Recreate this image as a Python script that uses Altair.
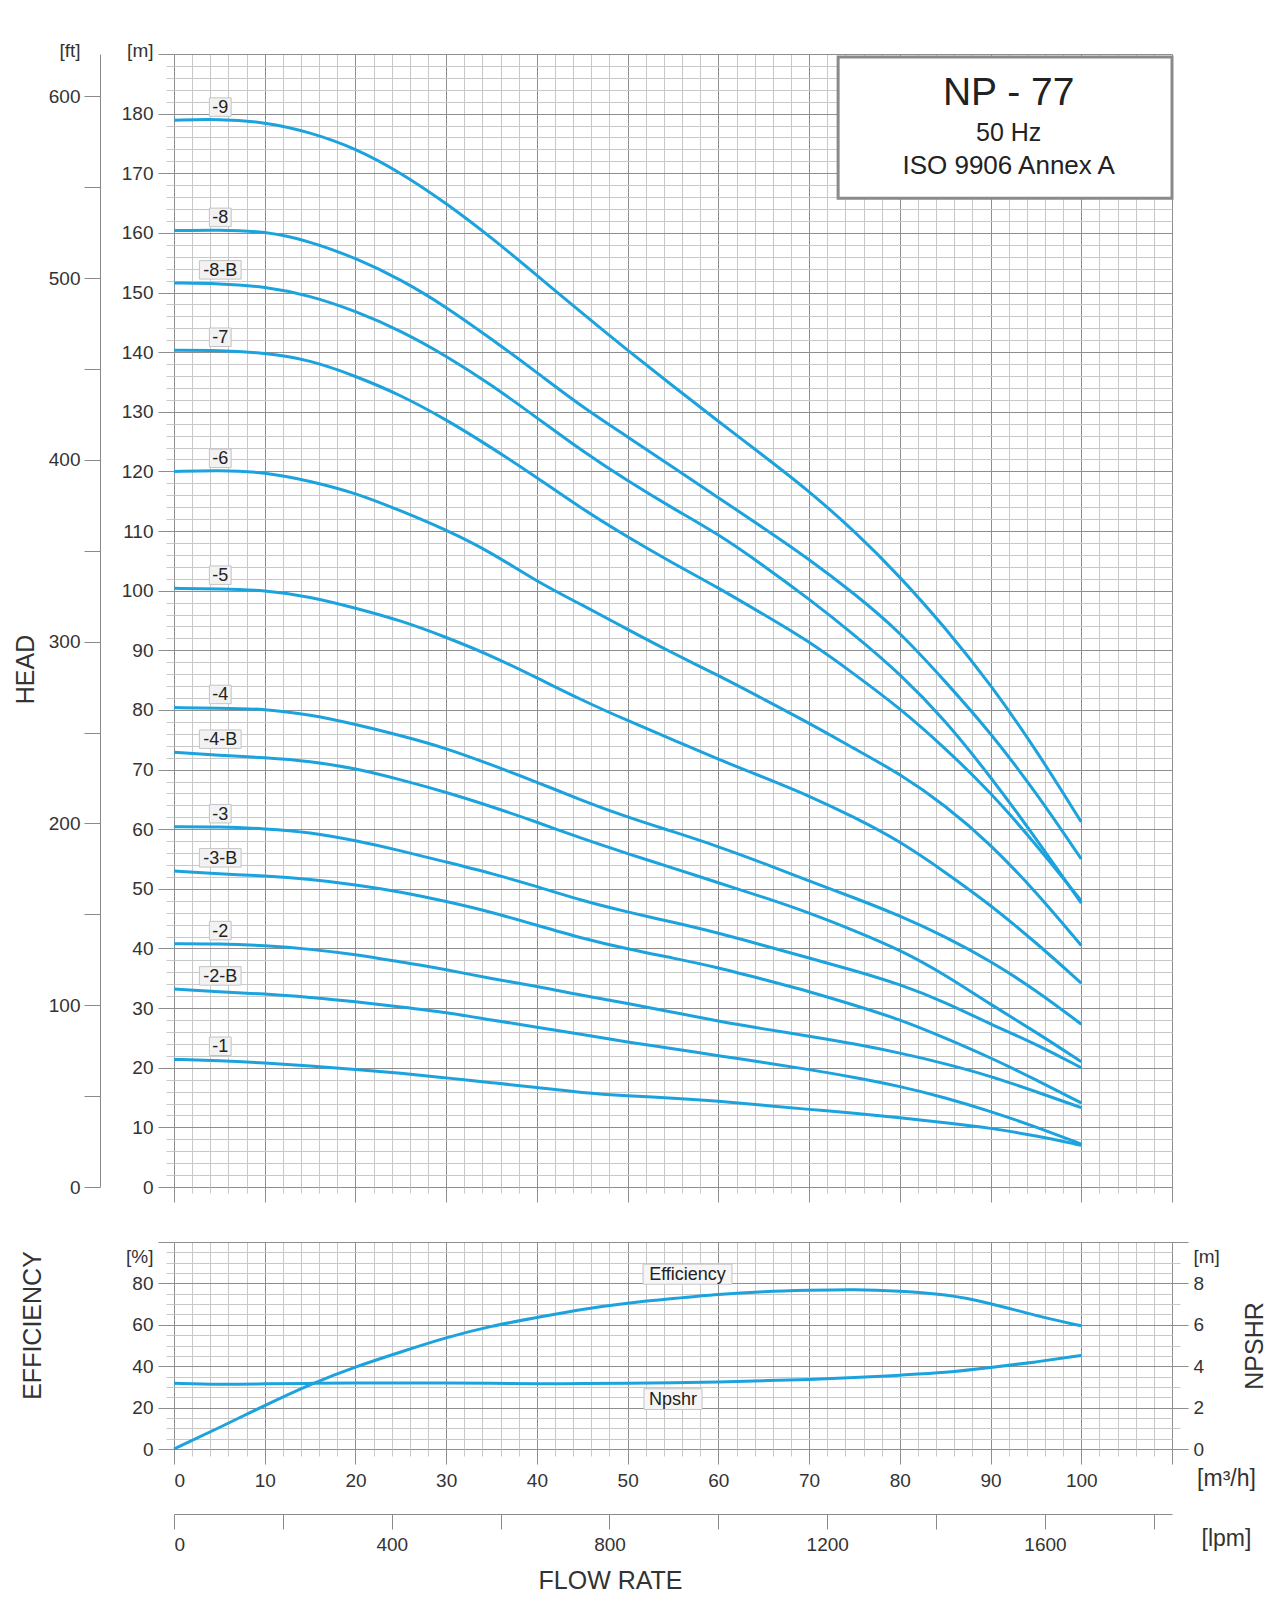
import altair as alt
import pandas as pd

# ---------------- data ----------------
flow = [0, 5, 10, 15, 20, 25, 30, 35, 40, 45, 50, 55, 60, 65, 70, 75, 80, 85, 90, 95, 100]

curve_names = ["-9", "-8", "-8-B", "-7", "-6", "-5", "-4", "-4-B", "-3", "-3-B", "-2", "-2-B", "-1"]

h_9 = [178.9, 179.1, 178.6, 176.9, 174.2, 170.1, 165.0, 159.2, 152.9, 146.5, 140.3, 134.3, 128.4, 122.6, 116.7, 110.0, 102.4, 93.8, 84.3, 73.4, 61.2]
h_8 = [160.4, 160.5, 160.3, 158.6, 155.8, 152.2, 147.6, 142.2, 136.6, 130.8, 125.8, 120.7, 115.6, 110.5, 105.3, 99.5, 93.1, 84.8, 76.2, 66.2, 55.0]
h_8b = [151.6, 151.5, 151.0, 149.5, 146.9, 143.6, 139.4, 134.5, 129.0, 123.4, 118.4, 113.8, 109.5, 104.2, 98.6, 92.6, 86.1, 78.3, 68.8, 58.5, 47.6]
h_7 = [140.3, 140.3, 139.9, 138.7, 136.0, 132.8, 128.7, 124.0, 119.0, 113.7, 109.0, 104.6, 100.5, 96.0, 91.5, 86.0, 80.3, 73.6, 66.2, 57.5, 48.0]
h_6 = [120.0, 120.2, 119.9, 118.4, 116.4, 113.4, 110.2, 106.4, 101.5, 97.6, 93.5, 89.5, 85.8, 81.8, 77.8, 73.5, 69.3, 64.0, 57.5, 49.5, 40.5]
h_5 = [100.4, 100.3, 100.1, 99.0, 97.1, 95.0, 92.2, 89.1, 85.4, 81.6, 78.2, 75.0, 71.7, 68.7, 65.6, 62.0, 58.0, 52.8, 47.3, 41.0, 34.2]
h_4 = [80.4, 80.3, 80.2, 79.2, 77.6, 75.7, 73.6, 70.8, 67.9, 64.8, 62.0, 59.6, 57.1, 54.3, 51.3, 48.5, 45.5, 42.0, 37.9, 33.0, 27.3]
h_4b = [72.9, 72.4, 72.0, 71.4, 70.2, 68.3, 66.2, 63.8, 61.2, 58.4, 55.9, 53.5, 51.0, 48.6, 46.0, 43.0, 39.8, 35.6, 30.6, 26.0, 21.0]
h_3 = [60.4, 60.4, 60.1, 59.5, 58.1, 56.4, 54.5, 52.6, 50.4, 48.0, 46.1, 44.4, 42.6, 40.5, 38.4, 36.3, 34.0, 31.0, 27.3, 24.0, 20.0]
h_3b = [53.0, 52.5, 52.2, 51.6, 50.7, 49.5, 47.9, 46.1, 43.9, 41.7, 39.9, 38.4, 36.8, 34.8, 32.8, 30.5, 28.1, 25.0, 21.7, 18.0, 14.1]
h_2 = [40.8, 40.8, 40.5, 39.9, 39.0, 37.7, 36.5, 34.9, 33.7, 32.1, 30.8, 29.3, 27.8, 26.5, 25.3, 24.0, 22.5, 20.7, 18.6, 16.0, 13.3]
h_2b = [33.2, 32.7, 32.4, 31.8, 31.1, 30.2, 29.3, 28.0, 26.8, 25.6, 24.3, 23.2, 22.0, 20.9, 19.7, 18.4, 16.9, 15.0, 12.7, 10.1, 7.2]
h_1 = [21.4, 21.2, 20.8, 20.3, 19.7, 19.1, 18.3, 17.5, 16.7, 15.8, 15.3, 14.9, 14.4, 13.7, 13.0, 12.4, 11.6, 10.8, 9.9, 8.6, 7.0]
heads = [h_9, h_8, h_8b, h_7, h_6, h_5, h_4, h_4b, h_3, h_3b, h_2, h_2b, h_1]

efficiency = [0, 10.3, 21.1, 31.3, 39.8, 46.9, 53.9, 59.5, 63.5, 67.6, 70.6, 72.7, 74.8, 76.1, 76.7, 77.2, 76.4, 74.8, 70.5, 64.3, 59.5]
npshr = [3.18, 3.11, 3.15, 3.17, 3.19, 3.19, 3.19, 3.18, 3.15, 3.16, 3.17, 3.20, 3.23, 3.30, 3.36, 3.44, 3.57, 3.68, 3.93, 4.20, 4.52]

title_lines = ["NP - 77", "50 Hz", "ISO 9906 Annex A"]

# ---------------- derived tables ----------------
rows = []
for name, hs in zip(curve_names, heads):
    for q, h in zip(flow, hs):
        rows.append({"curve": name, "q": q, "h": h})
df_curves = pd.DataFrame(rows)

lab = []
for name, hs in zip(curve_names, heads):
    half = 1.2 if len(name) <= 2 else 2.3
    yc = hs[0] + 2.2
    lab.append({"name": name, "xc": 5.1, "yc": yc, "x0": 5.1 - half, "x1": 5.1 + half,
                "y0": yc - 1.55, "y1": yc + 1.55})
df_lab = pd.DataFrame(lab)

df_box = pd.DataFrame([{"x0": 73.2, "x1": 110, "y0": 165.8, "y1": 189.5}])
df_title = pd.DataFrame({"t": title_lines, "x": [92, 92, 92], "y": [183.5, 176.8, 171.2],
                         "fs": [39, 25, 26]})

df_eff = pd.DataFrame({"q": flow, "eff": efficiency})
df_np = pd.DataFrame({"q": flow, "npsh": npshr})
df_blab = pd.DataFrame([
    {"name": "Efficiency", "xc": 56.6, "yc": 84.5, "x0": 51.7, "x1": 61.5, "y0": 79.6, "y1": 89.3},
    {"name": "Npshr", "xc": 55.0, "yc": 24.1, "x0": 51.8, "x1": 58.2, "y0": 19.1, "y1": 29.1},
])

Q_MAX = 110
H_MAX = 190
FT_MAX = H_MAX / 0.3048
LPM_MAX = Q_MAX * 1000 / 60

df_ft = pd.DataFrame({"q": [0, 0], "ft": [0, FT_MAX]})
df_lpm = pd.DataFrame({"lpm": [0, LPM_MAX]})

# ---------------- styling ----------------
W = 998
H_TOP = 1133
H_BOT = 207
BLUE = "#1ca3dd"
MAJ = "#8e8e8e"
MIN = "#c8c8c8"
TXT = "#333333"
FONT = "Liberation Sans"
LW = 3


def cond(test, a, b):
    return {"condition": {"test": test, "value": a}, "value": b}


def xs_top():
    return alt.Scale(domain=[0, Q_MAX], nice=False, zero=False)


def ys_top():
    return alt.Scale(domain=[0, H_MAX], nice=False, zero=False)


x_top_axis = alt.Axis(values=list(range(0, 111, 2)), labels=False, title=None, domain=False,
                      grid=True, gridColor=cond("datum.value % 10 === 0", MAJ, MIN),
                      tickColor=cond("datum.value % 10 === 0", MAJ, MIN),
                      tickSize=cond("datum.value % 10 === 0", 15, 6))
y_top_axis = alt.Axis(values=list(range(0, 191, 2)), title=None, domain=False, grid=True,
                      gridColor=cond("datum.value % 10 === 0", MAJ, MIN),
                      tickColor=cond("datum.value % 10 === 0", MAJ, MIN),
                      tickSize=cond("datum.value % 10 === 0", 16, 8),
                      labelOffset=cond("datum.value === 190", -4, 0),
                      labelPadding=5,
                      labelExpr="datum.value === 190 ? '[m]' : (datum.value % 10 === 0 ? datum.label : '')")

curves = alt.Chart(df_curves).mark_line(color=BLUE, strokeWidth=LW, interpolate="basis").encode(
    x=alt.X("q:Q", scale=xs_top(), axis=x_top_axis),
    y=alt.Y("h:Q", scale=ys_top(), axis=y_top_axis),
    detail="curve:N",
)

lab_boxes = alt.Chart(df_lab).mark_rect(fill="#f2f2f2", stroke="#c4c4c4", strokeWidth=1).encode(
    x=alt.X("x0:Q", scale=xs_top(), axis=None), x2="x1:Q",
    y=alt.Y("y0:Q", scale=ys_top(), axis=None), y2="y1:Q",
)
lab_text = alt.Chart(df_lab).mark_text(font=FONT, fontSize=18, color="#222222", baseline="middle",
                                       align="center", dy=1).encode(
    x=alt.X("xc:Q", scale=xs_top(), axis=None),
    y=alt.Y("yc:Q", scale=ys_top(), axis=None),
    text="name:N",
)

title_box = alt.Chart(df_box).mark_rect(fill="white", stroke="#8a8a8a", strokeWidth=3).encode(
    x=alt.X("x0:Q", scale=xs_top(), axis=None), x2="x1:Q",
    y=alt.Y("y0:Q", scale=ys_top(), axis=None), y2="y1:Q",
)
title_text = alt.Chart(df_title).mark_text(font=FONT, color="#222222", baseline="middle",
                                           align="center").encode(
    x=alt.X("x:Q", scale=xs_top(), axis=None),
    y=alt.Y("y:Q", scale=ys_top(), axis=None),
    text="t:N",
    size=alt.Size("fs:Q", scale=None, legend=None),
)

ft_axis = alt.Axis(orient="left", offset=74, values=list(range(0, 601, 50)) + [FT_MAX],
                   format="d", grid=False, domain=True, domainColor="#8a8a8a",
                   tickColor="#8a8a8a", tickSize=16,
                   tickOpacity=cond("datum.value > 610", 0, 1),
                   labelPadding=4,
                   labelOffset=cond("datum.value > 610", -4, 0),
                   labelExpr="datum.value > 610 ? '[ft]' : (datum.value % 100 === 0 ? datum.label : '')",
                   title="HEAD", titlePadding=10, titleFontSize=25, titleY=615)
ft_layer = alt.Chart(df_ft).mark_point(opacity=0).encode(
    x=alt.X("q:Q", scale=xs_top(), axis=None),
    y=alt.Y("ft:Q", scale=alt.Scale(domain=[0, FT_MAX], nice=False, zero=False), axis=ft_axis),
)

top = alt.layer(curves, lab_boxes, lab_text, title_box, title_text, ft_layer).resolve_scale(
    x="independent", y="independent").properties(width=W, height=H_TOP)

# ---------------- bottom panel ----------------
def xs_b():
    return alt.Scale(domain=[0, Q_MAX], nice=False, zero=False)


def ys_eff():
    return alt.Scale(domain=[0, 100], nice=False, zero=False)


x_bot_axis = alt.Axis(values=list(range(0, 111, 2)), domain=False, grid=True,
                      gridColor=cond("datum.value % 10 === 0", MAJ, MIN),
                      tickColor=cond("datum.value % 10 === 0", MAJ, MIN),
                      tickSize=cond("datum.value % 10 === 0", 15, 7),
                      labelPadding=7,
                      labelExpr="datum.value % 10 === 0 && datum.value < 105 ? datum.label : ''",
                      title="[m³/h]", titleX=1052, titleY=29, titleAlign="center",
                      titleBaseline="middle", titleFontSize=23)
y_eff_axis = alt.Axis(values=list(range(0, 101, 5)), domain=False, grid=True,
                      gridColor=cond("datum.value % 20 === 0", MAJ, MIN),
                      tickColor=cond("datum.value % 20 === 0", MAJ, MIN),
                      tickSize=cond("datum.value % 20 === 0", 16, 8),
                      labelPadding=5,
                      labelOffset=cond("datum.value === 100", 14, 0),
                      labelExpr="datum.value === 100 ? '[%]' : (datum.value % 20 === 0 ? datum.label : '')",
                      title="EFFICIENCY", titlePadding=80, titleY=83, titleFontSize=25)

eff_line = alt.Chart(df_eff).mark_line(color=BLUE, strokeWidth=LW, interpolate="basis").encode(
    x=alt.X("q:Q", scale=xs_b(), axis=x_bot_axis),
    y=alt.Y("eff:Q", scale=ys_eff(), axis=y_eff_axis),
)
blab_boxes = alt.Chart(df_blab).mark_rect(fill="#f6f6f6", stroke="#c4c4c4", strokeWidth=1).encode(
    x=alt.X("x0:Q", scale=xs_b(), axis=None), x2="x1:Q",
    y=alt.Y("y0:Q", scale=ys_eff(), axis=None), y2="y1:Q",
)
blab_text = alt.Chart(df_blab).mark_text(font=FONT, fontSize=18, color="#222222", baseline="middle",
                                         align="center", dy=1).encode(
    x=alt.X("xc:Q", scale=xs_b(), axis=None),
    y=alt.Y("yc:Q", scale=ys_eff(), axis=None),
    text="name:N",
)

np_x_axis = alt.Axis(orient="bottom", offset=65, domain=False, ticks=False, labels=False, grid=False,
                     title="[lpm]", titleX=1052, titleY=24, titleAlign="center",
                     titleBaseline="middle", titleFontSize=23)
np_y_axis = alt.Axis(orient="right", values=[v / 2 for v in range(0, 21)], format="d",
                     domain=False, grid=False,
                     tickColor=cond("datum.value % 2 === 0", MAJ, MIN),
                     tickSize=cond("datum.value % 2 === 0", 16, 8),
                     labelPadding=5,
                     labelOffset=cond("datum.value === 10", 14, 0),
                     labelExpr="datum.value === 10 ? '[m]' : (datum.value % 2 === 0 ? datum.label : '')",
                     title="NPSHR", titleAngle=270, titleBaseline="top", titlePadding=23,
                     titleFontSize=25)
np_layer = alt.Chart(df_np).mark_line(color=BLUE, strokeWidth=LW, interpolate="basis").encode(
    x=alt.X("q:Q", scale=xs_b(), axis=np_x_axis),
    y=alt.Y("npsh:Q", scale=alt.Scale(domain=[0, 10], nice=False, zero=False), axis=np_y_axis),
)

lpm_axis = alt.Axis(orient="bottom", offset=65, values=list(range(0, 1801, 200)), format="d",
                    grid=False, domain=True, domainColor="#8a8a8a", tickColor="#8a8a8a",
                    tickSize=15, labelPadding=6,
                    labelExpr="datum.value % 400 === 0 ? datum.label : ''",
                    title="FLOW RATE", titleX=436, titleY=66, titleAlign="center",
                    titleBaseline="middle", titleFontSize=25)
lpm_layer = alt.Chart(df_lpm).mark_point(opacity=0).encode(
    x=alt.X("lpm:Q", scale=alt.Scale(domain=[0, LPM_MAX], nice=False, zero=False), axis=lpm_axis),
)

bottom = alt.layer(eff_line, blab_boxes, blab_text, np_layer, lpm_layer).resolve_scale(
    x="independent", y="independent").properties(width=W, height=H_BOT)

chart = alt.vconcat(top, bottom, spacing=38).properties(
    padding={"left": 5, "top": 33, "right": 2, "bottom": 5}
).configure_axis(
    labelFont=FONT, titleFont=FONT, labelFontSize=19, titleFontSize=22,
    labelColor=TXT, titleColor=TXT, titleFontWeight="normal"
).configure_view(strokeWidth=0)

chart.save("out.html", embed_options={"renderer": "svg", "actions": False})
